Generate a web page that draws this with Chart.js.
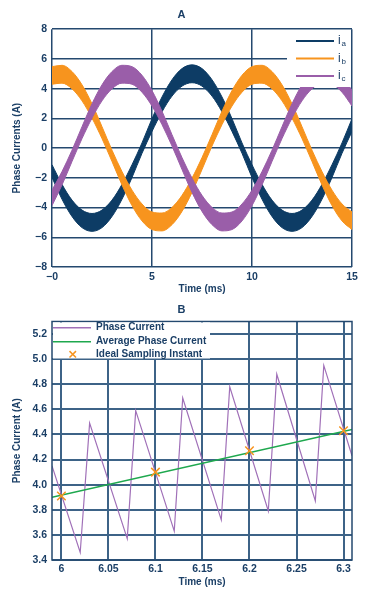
<!DOCTYPE html>
<html>
<head>
<meta charset="utf-8">
<script src="https://cdn.jsdelivr.net/npm/chart.js@4.4.1/dist/chart.umd.min.js"></script>
<style>
html, body { margin: 0; padding: 0; background: #fff; }
#wrapA { position: absolute; left: 0; top: 0; width: 386px; height: 296px; }
#wrapB { position: absolute; left: 0; top: 296px; width: 386px; height: 298px; }
</style>
</head>
<body>
<div id="wrapA"><canvas id="chartA" width="386" height="296"></canvas></div>
<div id="wrapB"><canvas id="chartB" width="386" height="298"></canvas></div>
<script>
// ---- chart A : three phase currents (ripple band, upper / lower edge) ----
var timeA = [0,0.5,1,1.5,2,2.5,3,3.5,4,4.5,5,5.5,6,6.5,7,7.5,8,8.5,9,9.5,10,10.5,11,11.5,12,12.5,13,13.5,14,14.5,15];
var iaHigh = [-1.12,-2.44,-3.50,-4.17,-4.40,-4.17,-3.50,-2.44,-1.12,0.35,1.98,3.44,4.60,5.35,5.60,5.35,4.60,3.44,1.98,0.35,-1.12,-2.44,-3.50,-4.17,-4.40,-4.17,-3.50,-2.44,-1.12,0.35,1.98];
var iaLow  = [-1.98,-3.44,-4.60,-5.35,-5.60,-5.35,-4.60,-3.44,-1.98,-0.35,1.12,2.44,3.50,4.17,4.40,4.17,3.50,2.44,1.12,-0.35,-1.98,-3.44,-4.60,-5.35,-5.60,-5.35,-4.60,-3.44,-1.98,-0.35,1.12];
var ibHigh = [5.48,5.57,5.15,4.26,2.98,1.44,-0.14,-1.58,-2.83,-3.76,-4.30,-4.37,-3.99,-3.18,-2.02,-0.64,0.90,2.48,3.87,4.90,5.48,5.57,5.15,4.26,2.98,1.44,-0.14,-1.58,-2.83,-3.76,-4.30];
var ibLow  = [4.30,4.37,3.99,3.18,2.02,0.64,-0.90,-2.48,-3.87,-4.90,-5.48,-5.57,-5.15,-4.26,-2.98,-1.44,0.14,1.58,2.83,3.76,4.30,4.37,3.99,3.18,2.02,0.64,-0.90,-2.48,-3.87,-4.90,-5.48];
var icHigh = [-2.83,-1.58,-0.14,1.44,2.98,4.26,5.15,5.57,5.48,4.90,3.87,2.48,0.90,-0.64,-2.02,-3.18,-3.99,-4.37,-4.30,-3.76,-2.83,-1.58,-0.14,1.44,2.98,4.26,5.15,5.57,5.48,4.90,3.87];
var icLow  = [-3.87,-2.48,-0.90,0.64,2.02,3.18,3.99,4.37,4.30,3.76,2.83,1.58,0.14,-1.44,-2.98,-4.26,-5.15,-5.57,-5.48,-4.90,-3.87,-2.48,-0.90,0.64,2.02,3.18,3.99,4.37,4.30,3.76,2.83];
var phaseSubs = ['a', 'b', 'c'];

// ---- chart B : zoom on one phase ----
var timeB  = [5.99,6.020,6.030,6.070,6.079,6.120,6.129,6.170,6.179,6.220,6.229,6.270,6.279,6.309];
var phaseB = [4.15,3.46,4.49,3.57,4.59,3.63,4.69,3.72,4.78,3.79,4.88,3.87,4.95,4.23];
var avgTime = [5.99, 6.309];
var avgB    = [3.90, 4.44];
var sampleTime = [6.0, 6.1, 6.2, 6.3];
var sampleB    = [3.91, 4.10, 4.27, 4.43];
var legendB = ['Phase Current', 'Average Phase Current', 'Ideal Sampling Instant'];

var navy = '#0d3c65';
var orange = '#f7941e';
var purple = '#9a5ea9';
var txt = '#1b3f66';
var FONT = '"Liberation Sans", Arial, sans-serif';

Chart.defaults.font.family = FONT;
Chart.defaults.font.weight = 'bold';
Chart.defaults.color = txt;

function pts(xs, ys) {
  return xs.map(function (x, i) { return {x: x, y: ys[i]}; });
}
function minus(v) {
  return v < 0 ? '\u2212' + (-v) : '' + v;
}

function band(data, color, fillTo) {
  return {
    data: data,
    borderColor: color,
    backgroundColor: color,
    borderWidth: 1,
    pointRadius: 0,
    cubicInterpolationMode: 'monotone',
    fill: fillTo
  };
}

// legend of chart A sits on a white box in the top right corner
var legendAPlugin = {
  id: 'legendA',
  afterDraw: function (chart) {
    var ctx = chart.ctx;
    var colors = [navy, orange, purple];
    ctx.save();
    ctx.fillStyle = '#fff';
    ctx.fillRect(287, 30, 64, 57);
    for (var i = 0; i < 3; i++) {
      var y = 41 + i * 17.5;
      ctx.strokeStyle = colors[i];
      ctx.lineWidth = 2;
      ctx.beginPath();
      ctx.moveTo(296, y);
      ctx.lineTo(334, y);
      ctx.stroke();
      ctx.fillStyle = txt;
      ctx.textBaseline = 'middle';
      ctx.font = '12px ' + FONT;
      ctx.fillText('i', 338, y);
      ctx.font = '8px ' + FONT;
      ctx.fillText(phaseSubs[i], 341.5, y + 3);
    }
    ctx.restore();
  }
};

var chartA = new Chart(document.getElementById('chartA'), {
  type: 'line',
  data: {
    datasets: [
      band(pts(timeA, icHigh), purple, 1),
      band(pts(timeA, icLow), purple, false),
      band(pts(timeA, ibHigh), orange, 3),
      band(pts(timeA, ibLow), orange, false),
      band(pts(timeA, iaHigh), navy, 5),
      band(pts(timeA, iaLow), navy, false)
    ]
  },
  options: {
    responsive: false,
    animation: false,
    layout: {padding: {left: 11, right: 34, top: 0, bottom: 0}},
    plugins: {
      legend: {display: false},
      tooltip: {enabled: false},
      title: {display: true, text: 'A', color: txt, font: {size: 11, weight: 'bold'}, padding: {top: 8, bottom: 8}}
    },
    scales: {
      x: {
        type: 'linear', min: 0, max: 15, z: 1,
        ticks: {stepSize: 5, padding: 4, font: {size: 10.5},
          callback: function (v) { return v === 0 ? '\u22120' : '' + v; }},
        grid: {color: '#24496f', lineWidth: 1.5, drawTicks: false},
        border: {display: false},
        title: {display: true, text: 'Time (ms)', font: {size: 10}, padding: {top: 0, bottom: 1}},
        afterFit: function (s) { s.height = 29; }
      },
      y: {
        type: 'linear', min: -8, max: 8, z: 1,
        ticks: {stepSize: 2, padding: 5, font: {size: 10.5}, callback: minus},
        grid: {color: '#24496f', lineWidth: 1.5, drawTicks: false},
        border: {display: false},
        title: {display: true, text: 'Phase Currents (A)', font: {size: 10}, padding: {top: 0, bottom: 0}},
        afterFit: function (s) { s.width = 41; }
      }
    }
  },
  plugins: [legendAPlugin]
});

// frame and legend box of chart B
var legendBPlugin = {
  id: 'legendB',
  afterDraw: function (chart) {
    var ctx = chart.ctx;
    var a = chart.chartArea;
    ctx.save();
    ctx.strokeStyle = '#24496f';
    ctx.lineWidth = 1.5;
    ctx.strokeRect(a.left, a.top, a.right - a.left, a.bottom - a.top);
    ctx.fillStyle = '#fff';
    ctx.fillRect(a.left + 1, a.top + 1, 157, 36);
    var rowY = [31.7, 45.7, 58.3];
    ctx.lineWidth = 1.5;
    ctx.strokeStyle = '#a070b8';
    ctx.beginPath(); ctx.moveTo(53, rowY[0]); ctx.lineTo(91, rowY[0]); ctx.stroke();
    ctx.strokeStyle = '#1ea84e';
    ctx.beginPath(); ctx.moveTo(53, rowY[1]); ctx.lineTo(91, rowY[1]); ctx.stroke();
    ctx.strokeStyle = orange;
    ctx.beginPath();
    ctx.moveTo(69.5, rowY[2] - 3.2); ctx.lineTo(76, rowY[2] + 3.2);
    ctx.moveTo(76, rowY[2] - 3.2); ctx.lineTo(69.5, rowY[2] + 3.2);
    ctx.stroke();
    ctx.fillStyle = txt;
    ctx.font = 'bold 10px ' + FONT;
    ctx.textBaseline = 'middle';
    for (var i = 0; i < legendB.length; i++) ctx.fillText(legendB[i], 96, rowY[i]);
    ctx.restore();
  }
};

var chartB = new Chart(document.getElementById('chartB'), {
  type: 'line',
  data: {
    datasets: [
      {
        data: pts(sampleTime, sampleB), showLine: false,
        pointStyle: 'crossRot', pointRadius: 6, pointBorderWidth: 1.5,
        pointBorderColor: orange, borderColor: orange
      },
      {
        data: pts(avgTime, avgB), borderColor: '#1ea84e', borderWidth: 1.5, pointRadius: 0
      },
      {
        data: pts(timeB, phaseB), borderColor: '#a070b8', borderWidth: 1.2, pointRadius: 0, tension: 0
      }
    ]
  },
  options: {
    responsive: false,
    animation: false,
    layout: {padding: {left: 11, right: 34, top: 0, bottom: 0}},
    plugins: {
      legend: {display: false},
      tooltip: {enabled: false},
      title: {display: true, text: 'B', color: txt, font: {size: 11, weight: 'bold'}, padding: {top: 7, bottom: 5.3}}
    },
    scales: {
      x: {
        type: 'linear', min: 5.99, max: 6.309, z: 1,
        ticks: {stepSize: 0.05, includeBounds: false, padding: 3, font: {size: 10.5},
          callback: function (v) { return '' + parseFloat(v.toFixed(2)); }},
        grid: {color: '#3d6387', lineWidth: 2, drawTicks: false},
        border: {display: false},
        title: {display: true, text: 'Time (ms)', font: {size: 10}, padding: {top: 0, bottom: 5.3}},
        afterFit: function (s) { s.height = 34; }
      },
      y: {
        type: 'linear', min: 3.4, max: 5.3, z: 1,
        ticks: {stepSize: 0.2, includeBounds: false, padding: 5, font: {size: 10.5},
          callback: function (v) { return v > 5.25 ? null : v.toFixed(1); }},
        grid: {color: '#3d6387', lineWidth: 2, drawTicks: false},
        border: {display: false},
        title: {display: true, text: 'Phase Current (A)', font: {size: 10}, padding: {top: 0, bottom: 0}},
        afterFit: function (s) { s.width = 41; }
      }
    }
  },
  plugins: [legendBPlugin]
});
</script>
</body>
</html>
